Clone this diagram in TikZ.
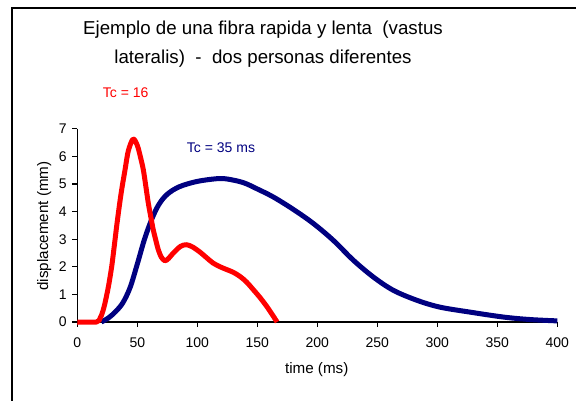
\documentclass[tikz,border=0pt]{standalone}
\usepackage{fontspec}
\setmainfont{Liberation Sans}
\definecolor{fastred}{RGB}{255,0,0}
\definecolor{slownavy}{RGB}{0,0,128}

\begin{document}
\begin{tikzpicture}[x=1.2pt, y=27.6pt,
  curve/.style={line width=5pt, line join=round},
  ticklabel/.style={inner sep=0pt, font=\fontsize{14}{16}\selectfont},
  axislabel/.style={inner sep=0pt, font=\fontsize{15.2}{18}\selectfont}]

\useasboundingbox (-64.42,-2.826) rectangle (415.58,11.667);
\draw [line width=1.3pt] (-54.4,-4) rectangle (430,11.377);

\node [inner sep=0pt, align=center, font=\fontsize{18.7}{29}\selectfont] (title) at (154.75,10.08)
  {Ejemplo de una fibra rapida y lenta \ (vastus\\lateralis) \ - \ dos personas diferentes};

\draw [line width=1.5pt] (0,7) -- (0,0) -- (400,0);

\foreach \yv in {0,...,7}
{
\draw [line width=1.2pt] (0,\yv) -- ++(-5pt,0pt);
\node [ticklabel, anchor=east] (ytick\yv) at ([xshift=-10.5pt]0,\yv) {\yv};
}
\foreach \xv in {0,50,...,400}
{
\draw [line width=1.2pt] (\xv,0) -- ++(0pt,-5pt);
\node [ticklabel] (xtick\xv) at ([yshift=-21pt]\xv,0) {\xv};
}

\node [axislabel, rotate=90] (ylabel) at (-27.6,3.48) {displacement (mm)};
\node [axislabel] (xlabel) at (199.5,-1.74) {time (ms)};

\node [ticklabel, anchor=west, text=fastred] (tcfast) at (21.2,8.30) {Tc = 16};
\node [ticklabel, anchor=west, text=slownavy] (tcslow) at (91.2,6.30) {Tc = 35 ms};

% slow fibre
\draw [curve, slownavy] plot [smooth, tension=0.55] coordinates {
(20,0) (26,0.15) (32,0.38) (38,0.7) (44,1.25) (50,2.1) (56,3.0) (62,3.72)
(68,4.26) (75,4.63) (85,4.9) (99.5,5.09) (115.7,5.19)
(125,5.18) (138.3,5.05) (150,4.82) (163.3,4.53)
(180,4.08) (196.7,3.57) (213.3,2.96) (230,2.24) (246.7,1.63) (263.3,1.15)
(282.8,0.79) (302,0.54) (327,0.36) (355,0.18) (377,0.09) (400,0.04)};

% fast fibre
\draw [curve, fastred] plot [smooth, tension=0.5] coordinates {
(0,0) (16,0) (19,0.14) (21,0.35) (23.1,0.69) (26,1.3) (28.7,2.02) (30.8,2.75)
(32.8,3.47) (35,4.2) (37,4.8) (39.8,5.52) (42.5,6.2) (46.5,6.63) (50,6.4)
(52.5,6.0) (55,5.52) (57,4.95) (59.2,4.3) (61.3,3.8) (63.3,3.34) (65.5,2.95)
(67.5,2.62) (70,2.35) (73,2.22) (76,2.3) (80,2.5) (86,2.74) (91,2.8) (96,2.72)
(102,2.54) (108,2.32) (113,2.14) (119,2.0) (124.5,1.9) (130,1.8) (135.6,1.65)
(141,1.45) (146.7,1.17) (152,0.9) (157.8,0.57) (162,0.3) (166.5,0)};

\end{tikzpicture}
\end{document}
